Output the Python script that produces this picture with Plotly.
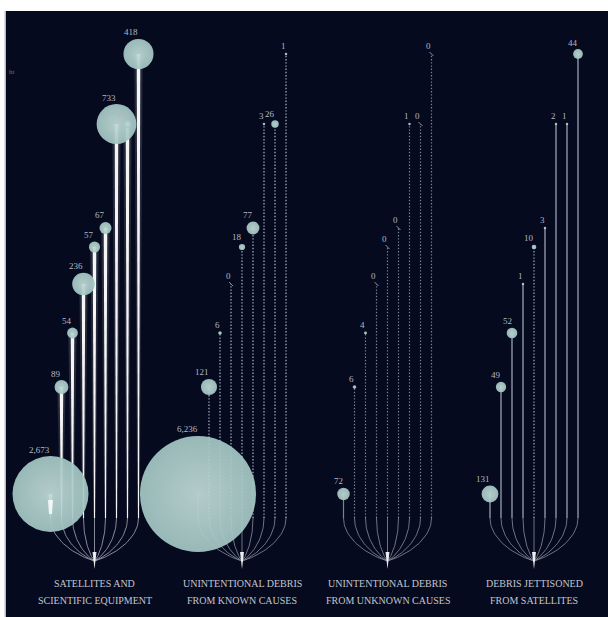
import numpy as np
import plotly.graph_objects as go

# ---------------- data ----------------
groups = ["SATELLITES AND|SCIENTIFIC EQUIPMENT",
          "UNINTENTIONAL DEBRIS|FROM KNOWN CAUSES",
          "UNINTENTIONAL DEBRIS|FROM UNKNOWN CAUSES",
          "DEBRIS JETTISONED|FROM SATELLITES"]
# relative height of each of the nine stems (same in every group)
stem_height = [24, 131, 185, 234, 271, 290, 394, 394, 464]
satellites = [2673, 89, 54, 236, 57, 67, 733, 26, 418]
debris_known = [6236, 121, 6, 0, 18, 77, 3, 26, 1]
debris_unknown = [72, 6, 4, 0, 0, 0, 1, 0, 0]
debris_jettisoned = [131, 49, 52, 1, 10, 3, 2, 1, 44]
series = [satellites, debris_known, debris_unknown, debris_jettisoned]

# ---------------- layout constants ----------------
W, H = 608, 617
ML, MT = 6, 11
BASE_PX = 518
group_x = [94.5, 242, 387.5, 534]
step = 11
K = 0.735          # radius (px) per sqrt(value)
BG = "#050a1e"
CIRCLE = "#a3c6c3"
NUM_FONT = dict(family="Liberation Serif, DejaVu Serif, serif", size=9, color="#b3b8c3")
CAT_FONT = dict(family="Liberation Serif, DejaVu Serif, serif", size=10, color="#c3c6cf")

styles = [
    dict(kind="spindle", color="#ffffff"),
    dict(kind="dots", color="#a7adbb", width=1.3),
    dict(kind="dots", color="#7a8296", width=1.2),
    dict(kind="solid", color="#8d96a8", width=1.4),
]
solid_override = {(2, 0), (3, 0)}
dotted_override = {(3, 4)}

fig = go.Figure()


def trace_lines(xs, ys, color, width, dash="solid", opacity=1.0):
    fig.add_trace(go.Scatter(x=xs, y=ys, mode="lines",
                             line=dict(color=color, width=width, dash=dash),
                             opacity=opacity, hoverinfo="skip", showlegend=False))


def spindle(x, y0, y1, w0, w1, n=24):
    ys = np.linspace(y0, y1, n)
    hw = np.linspace(w0, w1, n)
    xs = np.concatenate([x - hw, (x + hw)[::-1], [x - hw[0]]])
    yy = np.concatenate([ys, ys[::-1], [ys[0]]])
    return xs, yy


def bezier(p0, p1, p2, p3, n=30):
    t = np.linspace(0, 1, n)[:, None]
    pts = ((1 - t) ** 3) * p0 + 3 * ((1 - t) ** 2) * t * p1 + 3 * (1 - t) * t ** 2 * p2 + t ** 3 * p3
    return pts[:, 0], pts[:, 1]


def radius(v):
    return max(K * np.sqrt(v), 1.25) if v > 0 else 0


annotations = []
circ_x, circ_y, circ_d = [], [], []
zero_x, zero_y = [], []

for g, vals in enumerate(series):
    xc = group_x[g]
    xs_stem = [xc + (i - 4) * step for i in range(len(vals))]
    st = styles[g]

    # fan at the bottom
    fx, fy = [], []
    for xi in xs_stem:
        bx, by = bezier(np.array([xi, 0.0]), np.array([xi, -22.0]),
                        np.array([xc + (xi - xc) * 0.4, -38.0]), np.array([xc, -43.0]))
        fx += list(bx) + [None]
        fy += list(by) + [None]
    trace_lines(fx, fy, "#c4c8d2" if g == 0 else "#a0a7b6", 0.9, opacity=0.75)
    # glowing tip
    tx, ty = [xc - 2.0, xc + 2.0, xc, xc - 2.0], [-34, -34, -51, -34]
    fig.add_trace(go.Scatter(x=tx, y=ty, mode="lines", fill="toself", fillcolor="rgba(255,255,255,0.9)",
                             line=dict(width=0), hoverinfo="skip", showlegend=False))

    # stems
    for i, (xi, v) in enumerate(zip(xs_stem, vals)):
        h = stem_height[i]
        if st["kind"] == "spindle":
            gx, gy = spindle(xi, 0, h, 1.2, 4.2)
            fig.add_trace(go.Scatter(x=gx, y=gy, mode="lines", fill="toself",
                                     fillcolor="rgba(255,255,255,0.13)", line=dict(width=0),
                                     hoverinfo="skip", showlegend=False))
            sx, sy = spindle(xi, 0, h, 0.5, 1.8)
            fig.add_trace(go.Scatter(x=sx, y=sy, mode="lines", fill="toself",
                                     fillcolor="rgba(255,255,255,0.95)", line=dict(width=0),
                                     hoverinfo="skip", showlegend=False))
        else:
            dotted = (st["kind"] == "dots" and (g, i) not in solid_override) or (g, i) in dotted_override
            trace_lines([xi, xi], [0, h], st["color"], st["width"],
                        dash="1.4px,1.8px" if dotted else "solid")

        r = radius(v)
        if v > 0:
            circ_x.append(xi)
            circ_y.append(h)
            circ_d.append(2 * r)
            ly = h + r + 6.5
        else:
            zero_x.append(xi)
            zero_y.append(h)
            ly = h + 8
        annotations.append(dict(x=xi + 1.5, y=ly, text=f"{v:,}", showarrow=False,
                                xanchor="right", yanchor="middle", font=NUM_FONT))

    # category label
    l1, l2 = groups[g].split("|")
    annotations.append(dict(x=xc, y=BASE_PX - 583, text=l1, showarrow=False,
                            xanchor="center", yanchor="middle", font=CAT_FONT))
    annotations.append(dict(x=xc, y=BASE_PX - 600, text=l2, showarrow=False,
                            xanchor="center", yanchor="middle", font=CAT_FONT))

# circles: biggest first so small ones sit on top
order = np.argsort(circ_d)[::-1]
cx = [circ_x[k] for k in order]
cy = [circ_y[k] for k in order]
cd = [circ_d[k] for k in order]
fig.add_trace(go.Scatter(x=cx, y=cy, mode="markers",
                         marker=dict(size=cd, color=CIRCLE, opacity=0.93, line=dict(width=0),
                                     gradient=dict(type="radial", color="#c0d9d7")),
                         hoverinfo="skip", showlegend=False))
fig.add_trace(go.Scatter(x=zero_x, y=zero_y, mode="markers",
                         marker=dict(symbol="line-nw", size=4, line=dict(color="#8a91a3", width=1)),
                         hoverinfo="skip", showlegend=False))

# highlight of the first satellites stem through its large circle
hx, hy = spindle(group_x[0] - 4 * step, 4, stem_height[0] - 6, 1.5, 2.5)
fig.add_trace(go.Scatter(x=hx, y=hy, mode="lines", fill="toself", fillcolor="rgba(255,255,255,0.8)",
                         line=dict(width=0), hoverinfo="skip", showlegend=False))

# cut-off text fragment at left edge
annotations.append(dict(x=7, y=BASE_PX - 72, text="ht", showarrow=False, xanchor="left",
                        font=dict(family="Liberation Serif", size=7, color="#6a7080")))

fig.update_layout(
    width=W, height=H,
    margin=dict(l=ML, r=0, t=MT, b=0),
    paper_bgcolor="#ffffff",
    plot_bgcolor=BG,
    xaxis=dict(range=[ML, W], visible=False, fixedrange=True),
    yaxis=dict(range=[BASE_PX - H, BASE_PX - MT], visible=False, fixedrange=True),
    annotations=annotations,
    shapes=[dict(type="line", xref="paper", yref="paper", x0=-0.8 / (W - ML), x1=-0.8 / (W - ML),
                 y0=0, y1=1, line=dict(color="#9a9aa0", width=1))],
    showlegend=False,
)

fig.write_html("out.html", config={"displayModeBar": False},
               post_script="document.body.style.margin='0';")
